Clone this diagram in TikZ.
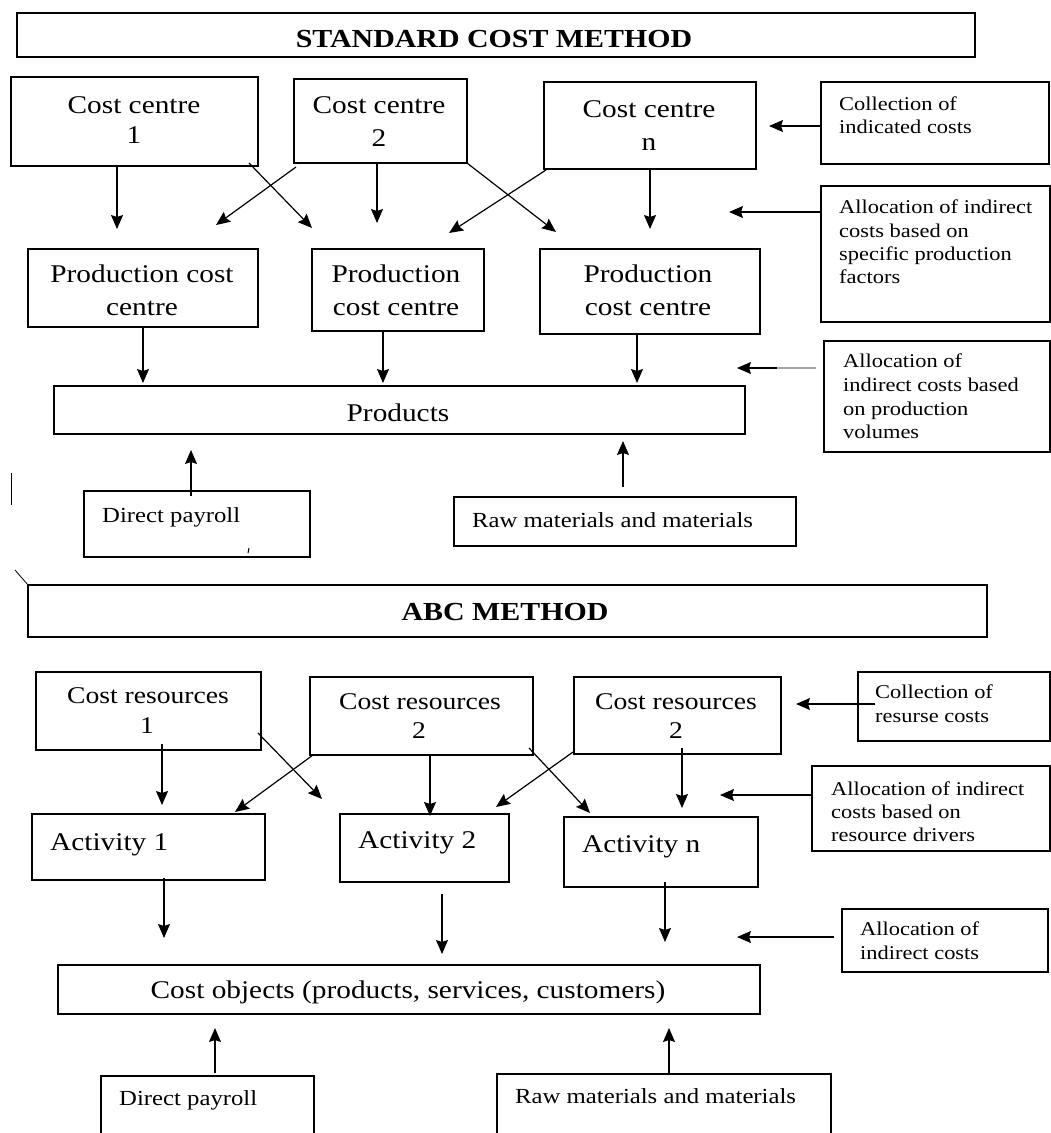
\documentclass[tikz,border=0pt]{standalone}
\usepackage{fontspec}
\setmainfont{Liberation Serif}[FakeStretch=1.15]
\usetikzlibrary{arrows.meta,fit}
\begin{document}
\begin{tikzpicture}[x=1pt,y=-1pt,
  bx/.style={draw, line width=1.5pt, inner sep=0pt},
  arr/.style={line width=1.2pt, -{Stealth[length=14pt,width=12pt,inset=2pt]}},
  ttl/.style={inner sep=0pt, anchor=base, font=\bfseries\fontsize{26}{30}\selectfont},
  big/.style={inner sep=0pt, anchor=base, font=\fontsize{25.5}{30}\selectfont},
  crs/.style={inner sep=0pt, anchor=base, font=\fontsize{24}{28}\selectfont},
  mid/.style={inner sep=0pt, anchor=base west, font=\fontsize{21.5}{25}\selectfont},
  sml/.style={inner sep=0pt, anchor=base west, font=\fontsize{19.5}{23}\selectfont}]
\useasboundingbox[fill=white] (0,0) rectangle (1051,1133);

% ---------- STANDARD COST METHOD ----------
\node[bx, fit={(17,13) (975,57)}] (t1) {};
\node[ttl] (t1t) at (494,47) {STANDARD COST METHOD};

\node[bx, fit={(11,77) (258,166)}] (cc1) {};
\node[big] (cc1a) at (134,113) {Cost centre};
\node[big] (cc1b) at (134,143) {1};
\node[bx, fit={(294,79) (467,163)}] (cc2) {};
\node[big] (cc2a) at (379,113) {Cost centre};
\node[big] (cc2b) at (379,146) {2};
\node[bx, fit={(544,82) (756,169)}] (ccn) {};
\node[big] (ccna) at (649,117) {Cost centre};
\node[big] (ccnb) at (649,150) {n};

\node[bx, fit={(821,82) (1049,164)}] (col1) {};
\node[sml] (col1a) at (839,110) {Collection of};
\node[sml] (col1b) at (839,133) {indicated costs};

\node[bx, fit={(821,186) (1050,322)}] (al1) {};
\node[sml] (al1a) at (839,213) {Allocation of indirect};
\node[sml] (al1b) at (839,237) {costs based on};
\node[sml] (al1c) at (839,260) {specific production};
\node[sml] (al1d) at (839,283) {factors};

\node[bx, fit={(28,249) (258,327)}] (pcc1) {};
\node[big] (pcc1a) at (142,282) {Production cost};
\node[big] (pcc1b) at (142,315) {centre};
\node[bx, fit={(312,249) (484,331)}] (pcc2) {};
\node[big] (pcc2a) at (396,282) {Production};
\node[big] (pcc2b) at (396,315) {cost centre};
\node[bx, fit={(540,249) (760,334)}] (pcc3) {};
\node[big] (pcc3a) at (648,282) {Production};
\node[big] (pcc3b) at (648,315) {cost centre};

\node[bx, fit={(824,341) (1050,452)}] (al2) {};
\node[sml] (al2a) at (843,367) {Allocation of};
\node[sml] (al2b) at (843,391) {indirect costs based};
\node[sml] (al2c) at (843,415) {on production};
\node[sml] (al2d) at (843,438) {volumes};

\node[bx, fit={(54,386) (745,434)}] (prod) {};
\node[big] (prodt) at (398,421) {Products};

\node[bx, fit={(84,491) (310,557)}] (dp1) {};
\node[mid] (dp1t) at (102,522) {Direct payroll};
\node[bx, fit={(454,497) (796,546)}] (raw1) {};
\node[mid] (raw1t) at (472,527) {Raw materials and materials};

% arrows (standard)
\draw[arr] (col1.west |- 0,126) -- (769,126);
\draw[arr] (117,0 |- cc1.south) -- (117,229);
\draw[arr] (296,167) -- (216,225);
\draw[arr] (249,163) -- (312,228);
\draw[arr] (377,0 |- cc2.south) -- (377,223);
\draw[arr] (546,170) -- (449,233);
\draw[arr] (467,163) -- (556,232);
\draw[arr] (650,0 |- ccn.south) -- (650,229);
\draw[arr] (al1.west |- 0,212) -- (729,212);
\draw[arr] (143,0 |- pcc1.south) -- (143,383);
\draw[arr] (383,0 |- pcc2.south) -- (383,383);
\draw[arr] (637,0 |- pcc3.south) -- (637,383);
\draw[arr] (778,368) -- (737,368);
\draw[line width=2.2pt, gray!70] (777,368) -- (816,368);
\draw[arr] (191,496) -- (191,450);
\draw[arr] (623,487) -- (623,441);

% stray marks
\draw[line width=1pt] (11,473) -- (11,505);
\draw[line width=1pt] (249,548) -- (248,553);
\draw[line width=0.8pt] (15,570) -- (28,585);

% ---------- ABC METHOD ----------
\node[bx, fit={(28,585) (987,637)}] (t2) {};
\node[ttl] (t2t) at (505,620) {ABC METHOD};

\node[bx, fit={(36,672) (261,750)}] (cr1) {};
\node[crs] (cr1a) at (148,703) {Cost resources};
\node[crs] (cr1b) at (147,733) {1};
\node[bx, fit={(310,677) (533,755)}] (cr2) {};
\node[crs] (cr2a) at (420,709) {Cost resources};
\node[crs] (cr2b) at (419,738) {2};
\node[bx, fit={(574,677) (781,754)}] (cr3) {};
\node[crs] (cr3a) at (676,709) {Cost resources};
\node[crs] (cr3b) at (676,738) {2};

\node[bx, fit={(858,672) (1050,741)}] (col2) {};
\node[sml] (col2a) at (875,698) {Collection of};
\node[sml] (col2b) at (875,722) {resurse costs};

\node[bx, fit={(812,766) (1050,851)}] (al3) {};
\node[sml] (al3a) at (831,795) {Allocation of indirect};
\node[sml] (al3b) at (831,818) {costs based on};
\node[sml] (al3c) at (831,841) {resource drivers};

\node[bx, fit={(32,814) (265,880)}] (act1) {};
\node[big, anchor=base west] (act1t) at (50,850) {Activity 1};
\node[bx, fit={(340,814) (509,882)}] (act2) {};
\node[big, anchor=base west] (act2t) at (358,848) {Activity 2};
\node[bx, fit={(564,817) (758,887)}] (actn) {};
\node[big, anchor=base west] (actnt) at (582,852) {Activity n};

\node[bx, fit={(842,909) (1048,972)}] (al4) {};
\node[sml] (al4a) at (860,935) {Allocation of};
\node[sml] (al4b) at (860,959) {indirect costs};

\node[bx, fit={(58,965) (760,1014)}] (cobj) {};
\node[big] (cobjt) at (408,998) {Cost objects (products, services, customers)};

\node[bx, fit={(101,1076) (314,1145)}] (dp2) {};
\node[mid] (dp2t) at (119,1105) {Direct payroll};
\node[bx, fit={(497,1074) (831,1145)}] (raw2) {};
\node[mid] (raw2t) at (515,1103) {Raw materials and materials};

% arrows (ABC)
\draw[arr] (875,704) -- (796,704);
\draw[arr] (162,744) -- (162,805);
\draw[arr] (258,733) -- (322,799);
\draw[arr] (312,0 |- cr2.south) -- (235,812);
\draw[arr] (430,0 |- cr2.south) -- (430,816);
\draw[arr] (529,748) -- (590,813);
\draw[arr] (573,752) -- (496,807);
\draw[arr] (682,748) -- (682,808);
\draw[arr] (al3.west |- 0,795) -- (720,795);
\draw[arr] (164,878) -- (164,938);
\draw[arr] (442,894) -- (442,954);
\draw[arr] (665,882) -- (665,942);
\draw[arr] (834,937) -- (737,937);
\draw[arr] (215,1073) -- (215,1028);
\draw[arr] (669,0 |- raw2.north) -- (669,1028);
\end{tikzpicture}
\end{document}
